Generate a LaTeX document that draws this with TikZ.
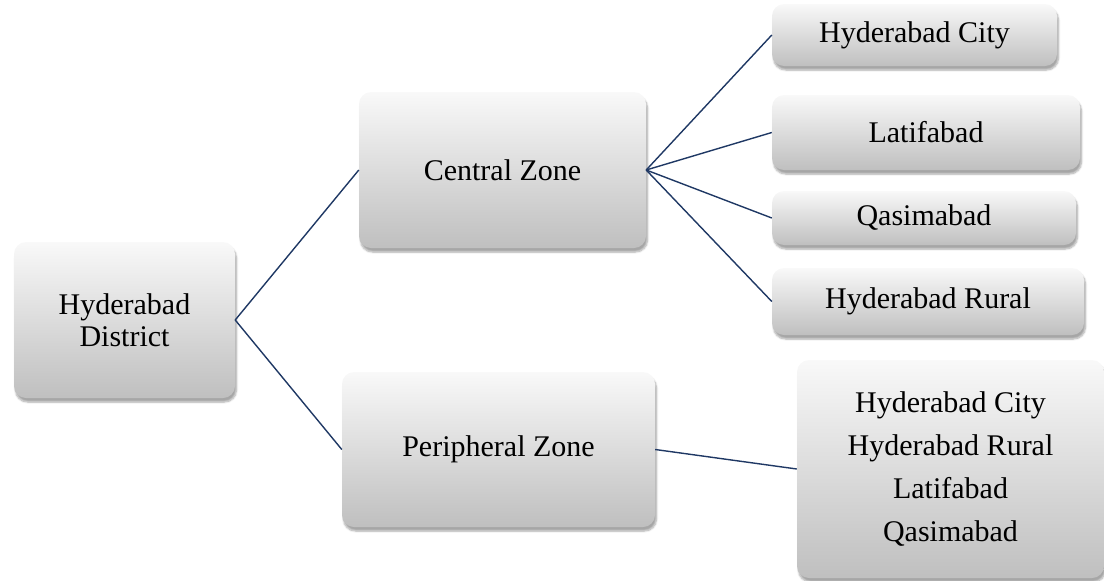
\documentclass[tikz,border=0pt]{standalone}
\usepackage{fontspec}
\setmainfont{Liberation Serif}
\usetikzlibrary{shadows.blur}

\definecolor{linkblue}{RGB}{31,56,100}

\tikzset{
  zone/.style={draw=none, rounded corners=12pt, top color=gray!5, bottom color=gray!50,
    blur shadow={shadow xshift=1.5pt, shadow yshift=-4pt, shadow blur steps=6, shadow opacity=35},
    inner sep=0pt, align=center, font=\fontsize{30}{32}\selectfont},
  link/.style={draw=linkblue, line width=1.4pt}
}

\begin{document}
\begin{tikzpicture}[x=1pt,y=-1pt]
  \useasboundingbox (0,0) rectangle (1104,581);
  \node[zone, minimum width=221pt, minimum height=156pt] (dist) at (124.5,320) {Hyderabad\\District};
  \node[zone, minimum width=287pt, minimum height=156pt] (central) at (502.5,170) {Central Zone};
  \node[zone, minimum width=313pt, minimum height=155pt] (periph) at (498.5,449.5) {Peripheral Zone};
  \node[zone, minimum width=285pt, minimum height=62pt] (city) at (914.5,35) {Hyderabad City};
  \node[zone, minimum width=308pt, minimum height=75pt] (latif) at (926,132.5) {Latifabad};
  \node[zone, minimum width=304pt, minimum height=54pt] (qasim) at (924,218) {Qasimabad};
  \node[zone, minimum width=312pt, minimum height=67pt] (rural) at (928,301.5) {Hyderabad Rural};
  \node[zone, minimum width=307pt, minimum height=218pt, font=\fontsize{30}{43}\selectfont] (list) at (950.5,469)
    {Hyderabad City\\Hyderabad Rural\\Latifabad\\Qasimabad};
  \draw[link] (dist.east) -- (central.west);
  \draw[link] (dist.east) -- (periph.west);
  \draw[link] (central.east) -- (city.west);
  \draw[link] (central.east) -- (latif.west);
  \draw[link] (central.east) -- (qasim.west);
  \draw[link] (central.east) -- (rural.west);
  \draw[link] (periph.east) -- (list.west);
\end{tikzpicture}
\end{document}
